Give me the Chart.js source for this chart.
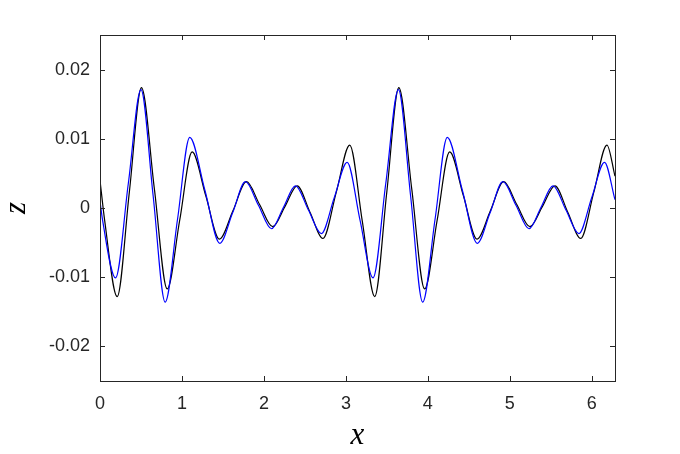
<!DOCTYPE html>
<html>
<head>
<meta charset="utf-8">
<script src="https://cdn.jsdelivr.net/npm/chart.js@4.4.1/dist/chart.umd.min.js"></script>
<style>
  html, body { margin: 0; padding: 0; background: #ffffff; }
  #wrap { width: 680px; height: 454px; }
</style>
</head>
<body>
<div id="wrap"><canvas id="c" width="680" height="454"></canvas></div>
<script>
// ---- data ----
const blackX = [0.000, 0.058, 0.210, 0.358, 0.506, 0.663, 0.820, 0.972, 1.124, 1.290, 1.457, 1.622, 1.787, 1.947, 2.107, 2.256, 2.405, 2.562, 2.720, 2.883, 3.047,
                3.200, 3.352, 3.499, 3.646, 3.803, 3.961, 4.113, 4.266, 4.433, 4.600, 4.763, 4.925, 5.085, 5.245, 5.397, 5.550, 5.707, 5.865, 6.025, 6.185, 6.283];
const blackZ = [0.0040, -0.0019, -0.0128, 0.0023, 0.0174, 0.0028, -0.0117, -0.0018, 0.0081, 0.0018, -0.0045, -0.0004, 0.0038, 0.0005, -0.0027, 0.0002, 0.0032, -0.0006, -0.0044, 0.0023, 0.0091,
                -0.0019, -0.0128, 0.0023, 0.0174, 0.0028, -0.0117, -0.0018, 0.0081, 0.0018, -0.0045, -0.0004, 0.0038, 0.0005, -0.0027, 0.0002, 0.0032, -0.0006, -0.0044, 0.0023, 0.0091, 0.0046];

const blueX = [0.000, 0.032, 0.190, 0.345, 0.500, 0.648, 0.795, 0.945, 1.095, 1.279, 1.462, 1.618, 1.774, 1.933, 2.092, 2.239, 2.385, 2.543, 2.700, 2.858, 3.015,
               3.173, 3.331, 3.486, 3.641, 3.789, 3.937, 4.087, 4.237, 4.420, 4.603, 4.759, 4.915, 5.075, 5.234, 5.381, 5.527, 5.685, 5.842, 5.999, 6.155, 6.283];
const blueZ = [0.0010, -0.0018, -0.0101, 0.0035, 0.0171, 0.0018, -0.0136, -0.0017, 0.0102, 0.0026, -0.0051, -0.0007, 0.0038, 0.0004, -0.0030, 0.0001, 0.0032, -0.0003, -0.0037, 0.0015, 0.0066,
               -0.0018, -0.0101, 0.0035, 0.0171, 0.0018, -0.0136, -0.0017, 0.0102, 0.0026, -0.0051, -0.0007, 0.0038, 0.0004, -0.0030, 0.0001, 0.0032, -0.0003, -0.0037, 0.0015, 0.0066, 0.0012];

const xTicks = [0, 1, 2, 3, 4, 5, 6];
const xTickLabels = ['0', '1', '2', '3', '4', '5', '6'];
const yTicks = [-0.02, -0.01, 0, 0.01, 0.02];
const yTickLabels = ['-0.02', '-0.01', '0', '0.01', '0.02'];
const xTitle = 'x';
const yTitle = 'z';

const toPoints = (xs, ys) => xs.map((x, i) => ({ x: x, y: ys[i] }));

const frameAndTicks = {
  id: 'frameAndTicks',
  afterDatasetsDraw(chart) {
    const { ctx, chartArea: a, scales } = chart;
    const len = 5;
    ctx.save();
    ctx.strokeStyle = '#262626';
    ctx.lineWidth = 1;
    ctx.beginPath();
    scales.x.ticks.forEach(t => {
      const px = Math.round(scales.x.getPixelForValue(t.value)) + 0.5;
      ctx.moveTo(px, a.bottom); ctx.lineTo(px, a.bottom - len);
      ctx.moveTo(px, a.top); ctx.lineTo(px, a.top + len);
    });
    scales.y.ticks.forEach(t => {
      const py = Math.round(scales.y.getPixelForValue(t.value)) + 0.5;
      ctx.moveTo(a.left, py); ctx.lineTo(a.left + len, py);
      ctx.moveTo(a.right, py); ctx.lineTo(a.right - len, py);
    });
    ctx.stroke();
    ctx.strokeRect(Math.round(a.left) + 0.5, Math.round(a.top) + 0.5,
                   Math.round(a.right - a.left), Math.round(a.bottom - a.top));
    ctx.restore();
  }
};

const tickFont = { family: '"Liberation Sans", Arial, Helvetica, sans-serif', size: 18 };
const titleFont = { family: '"Liberation Serif", "Times New Roman", serif', size: 31, style: 'italic', lineHeight: 1 };

new Chart(document.getElementById('c'), {
  type: 'line',
  data: {
    datasets: [
      {
        label: 'blue',
        data: toPoints(blueX, blueZ),
        borderColor: '#0000ff',
        borderWidth: 1.2,
        pointRadius: 0,
        fill: false,
        cubicInterpolationMode: 'monotone'
      },
      {
        label: 'black',
        data: toPoints(blackX, blackZ),
        borderColor: '#000000',
        borderWidth: 1.2,
        pointRadius: 0,
        fill: false,
        cubicInterpolationMode: 'monotone'
      }
    ]
  },
  options: {
    responsive: false,
    animation: false,
    devicePixelRatio: 1,
    layout: { padding: { left: 0, right: 65, top: 35, bottom: 0 } },
    plugins: { legend: { display: false }, tooltip: { enabled: false } },
    scales: {
      x: {
        type: 'linear',
        min: 0,
        max: 2 * Math.PI,
        afterBuildTicks: s => { s.ticks = xTicks.map(v => ({ value: v })); },
        afterFit: s => { s.height = 73; },
        grid: { display: false, drawTicks: false },
        border: { display: false },
        ticks: {
          font: tickFont,
          color: '#262626',
          padding: 12,
          maxRotation: 0,
          autoSkip: false,
          callback: (v, i) => xTickLabels[xTicks.indexOf(v)]
        },
        title: { display: true, text: xTitle, font: titleFont, color: '#000000', padding: { top: 0, bottom: 3 } }
      },
      y: {
        type: 'linear',
        min: -0.025,
        max: 0.025,
        afterBuildTicks: s => { s.ticks = yTicks.map(v => ({ value: v })); },
        afterFit: s => { s.width = 100; },
        grid: { display: false, drawTicks: false },
        border: { display: false },
        ticks: {
          font: tickFont,
          color: '#262626',
          padding: 10,
          autoSkip: false,
          callback: (v, i) => yTickLabels[yTicks.indexOf(v)]
        },
        title: { display: true, text: yTitle, font: titleFont, color: '#000000', padding: { top: 1, bottom: 0 } }
      }
    }
  },
  plugins: [frameAndTicks]
});
</script>
</body>
</html>
